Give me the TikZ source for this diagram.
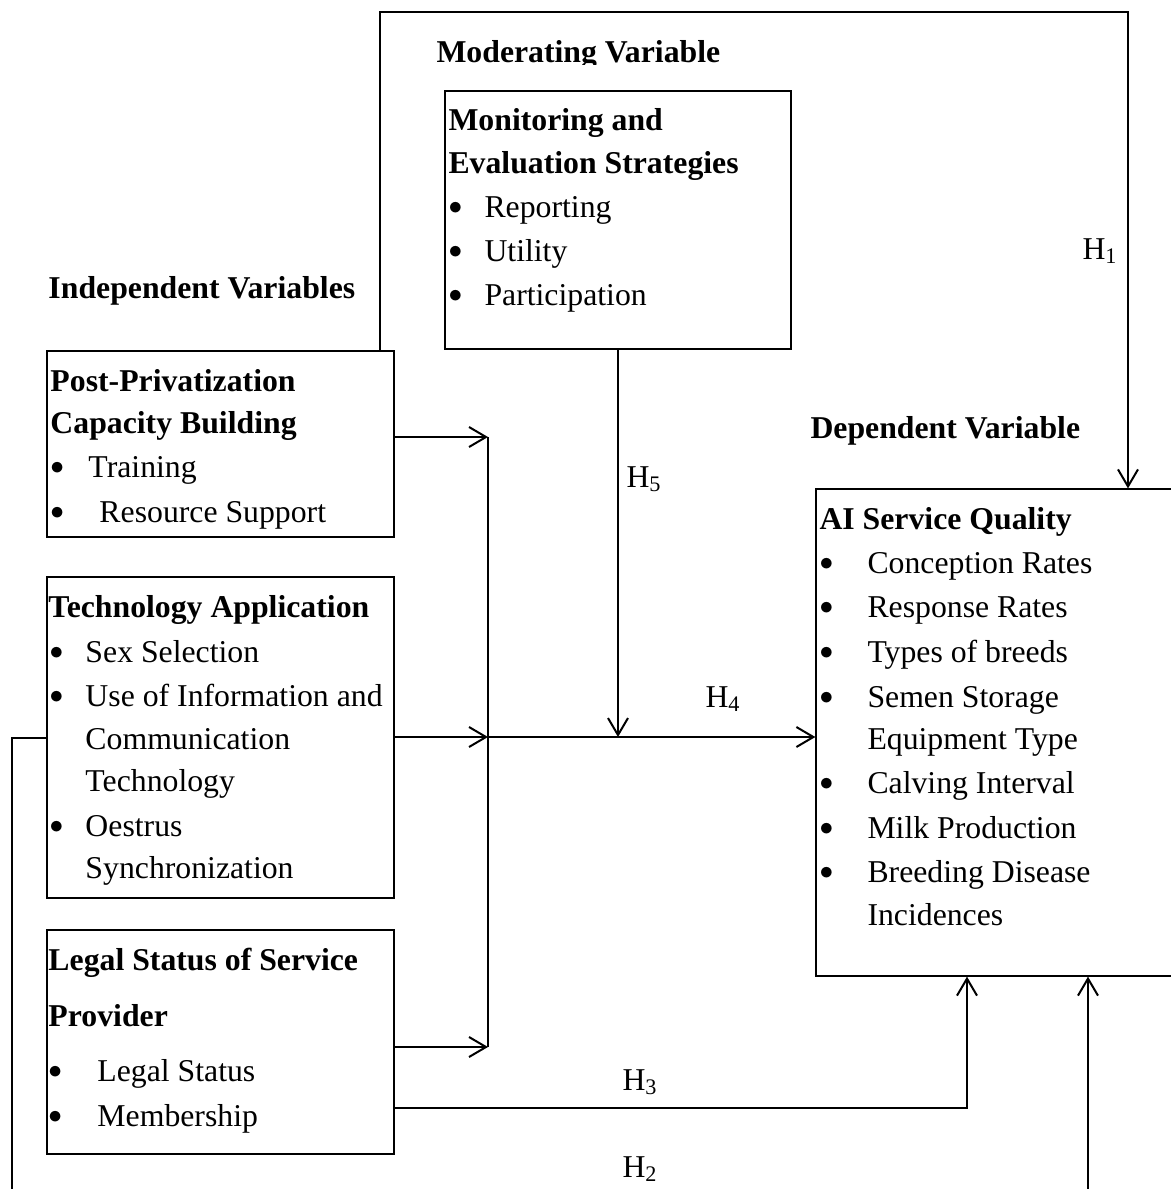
\documentclass[tikz,border=0pt]{standalone}
\usepackage{fontspec}
\setmainfont{Liberation Serif}
\usetikzlibrary{arrows.meta, fit}

\newcommand{\fs}{\fontsize{12.7}{15}\selectfont}
\newcommand{\itm}[2]{\makebox[#1][l]{\raisebox{1pt}{\fontsize{10.5}{10}\selectfont$\bullet$}}#2}

\begin{document}
\begin{tikzpicture}[x=0.4pt, y=-0.4pt,
  varbox/.style={draw, line width=0.5pt, inner sep=0pt},
  txt/.style={anchor=base west, inner sep=0pt, font=\fs},
  head/.style={txt, font=\fs\bfseries},
  link/.style={line width=0.8pt},
  >={Straight Barb[length=6.8pt, width=8pt]}]
\useasboundingbox (0,0) rectangle (1171,1189);

% boxes
\node[varbox, fit={(445,91) (791,349)}] (mon) {};
\node[varbox, fit={(47,351) (394,537)}] (pp) {};
\node[varbox, fit={(47,577) (394,898)}] (tech) {};
\node[varbox, fit={(47,930) (394,1154)}] (legal) {};
\node[varbox, fit={(816,489) (1173,976)}] (ai) {};

% headings
\begin{scope}
\clip (0,0) rectangle (1171,64);
\node[head] (modlbl) at (436,62) {Moderating Variable};
\end{scope}
\node[head] (indlbl) at (48,298) {Independent Variables};
\node[head] (deplbl) at (810,438) {Dependent Variable};

% moderating variable
\node[head] (mon1) at (448,130) {Monitoring and};
\node[head] (mon2) at (448,173) {Evaluation Strategies};
\foreach \t [count=\i] in {Reporting, Utility, Participation}
  \node[txt] (mon-i\i) at (448,{173+44*\i}) {\itm{14.4pt}{\t}};

% independent variables
\node[head] (pp1) at (50,391) {Post-Privatization};
\node[head] (pp2) at (50,433) {Capacity Building};
\node[txt] (pp-i1) at (50,477) {\itm{15.2pt}{Training}};
\node[txt] (pp-i2) at (50,522) {\itm{19.6pt}{Resource Support}};

\node[head] (tech1) at (48,617) {Technology Application};
\node[txt] (tech-i1) at (49,662) {\itm{14.4pt}{Sex Selection}};
\node[txt] (tech-i2) at (49,706) {\itm{14.4pt}{Use of Information and}};
\node[txt] (tech-i2b) at (85,749) {Communication};
\node[txt] (tech-i2c) at (85,791) {Technology};
\node[txt] (tech-i3) at (49,836) {\itm{14.4pt}{Oestrus}};
\node[txt] (tech-i3b) at (85,878) {Synchronization};

\node[head] (legal1) at (48,970) {Legal Status of Service};
\node[head] (legal2) at (48,1026) {Provider};
\node[txt] (legal-i1) at (48,1081) {\itm{19.6pt}{Legal Status}};
\node[txt] (legal-i2) at (48,1126) {\itm{19.6pt}{Membership}};

% dependent variable
\node[head] (ai1) at (819,529) {AI Service Quality};
\node[txt] (ai-i1) at (819,573) {\itm{19.2pt}{Conception Rates}};
\node[txt] (ai-i2) at (819,617) {\itm{19.2pt}{Response Rates}};
\node[txt] (ai-i3) at (819,662) {\itm{19.2pt}{Types of breeds}};
\node[txt] (ai-i4) at (819,707) {\itm{19.2pt}{Semen Storage}};
\node[txt] (ai-i4b) at (867,749) {Equipment Type};
\node[txt] (ai-i5) at (819,793) {\itm{19.2pt}{Calving Interval}};
\node[txt] (ai-i6) at (819,838) {\itm{19.2pt}{Milk Production}};
\node[txt] (ai-i7) at (819,882) {\itm{19.2pt}{Breeding Disease}};
\node[txt] (ai-i7b) at (867,925) {Incidences};

% hypotheses
\node[txt] (h1) at (1082,259) {H\textsubscript{1}};
\node[txt] (h5) at (626,487) {H\textsubscript{5}};
\node[txt] (h4) at (705,707) {H\textsubscript{4}};
\node[txt] (h3) at (622,1090) {H\textsubscript{3}};
\node[txt] (h2) at (622,1177) {H\textsubscript{2}};

% connectors
\coordinate (j1) at (488,437);
\coordinate (j2) at (488,737);
\coordinate (j3) at (488,1047);
\coordinate (f1) at (380,12);
\coordinate (f2) at (1128,12);
\coordinate (h3r) at (967,1108);
\coordinate (h2l) at (12,1200);
\coordinate (h2r) at (1088,1200);

\draw[link,->] (pp.east |- j1) -- (j1);
\draw[link,->] (tech.east |- j2) -- (j2);
\draw[link,->] (legal.east |- j3) -- (j3);
\draw[link] (j1) -- (j3);
\draw[link,->] (j2) -- (ai.west |- j2);
\draw[link,->] (mon.south) -- (mon.south |- j2);
\draw[link,->] (pp.north -| f1) -- (f1) -- (f2) -- (f2 |- ai.north);
\draw[link,->] (legal.east |- h3r) -- (h3r) -- (h3r |- ai.south);
\draw[link,->] (tech.west) -- (tech.west -| h2l) -- (h2l) -- (h2r) -- (h2r |- ai.south);
\end{tikzpicture}
\end{document}
